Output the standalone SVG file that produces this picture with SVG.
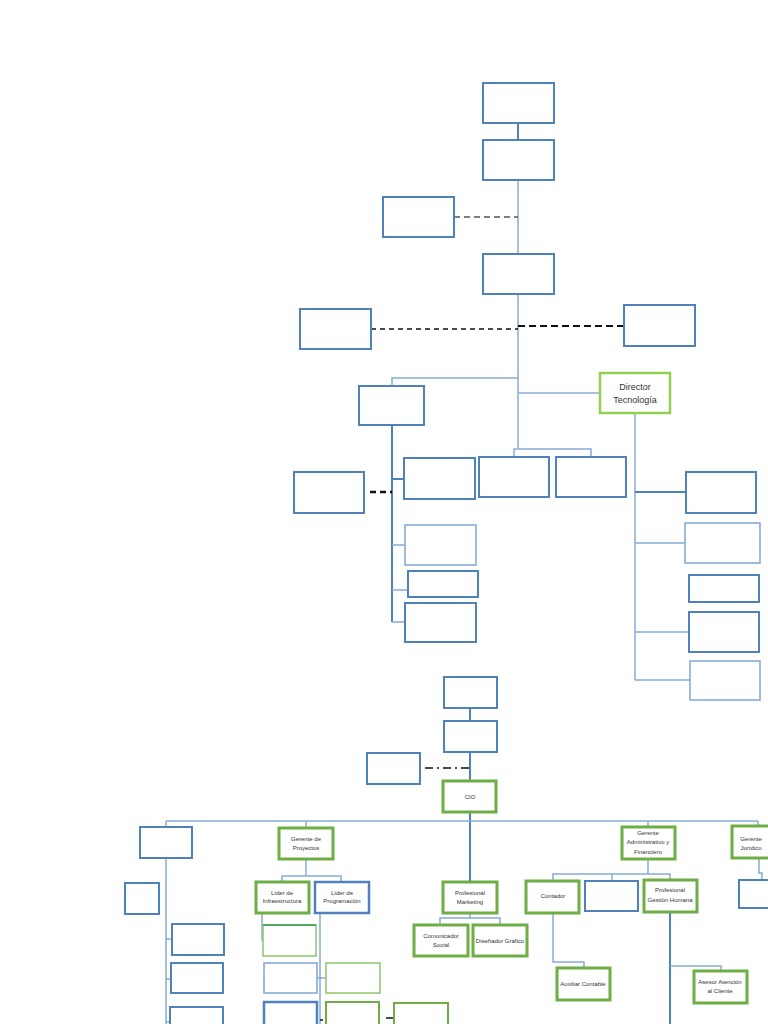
<svg xmlns="http://www.w3.org/2000/svg" width="768" height="1024" viewBox="0 0 768 1024">
<style>
.b{fill:#fff;stroke:#4F81BD;stroke-width:2}
.bl{fill:#fff;stroke:#7FA6D6;stroke-width:1.5}
.g{fill:#fff;stroke:#6FAE45;stroke-width:3}
.gl{fill:#fff;stroke:#92D050;stroke-width:2.5}
.gt{fill:#fff;stroke:#8CC56A;stroke-width:1.5}
.c{stroke:#86ACD8;stroke-width:1.5;fill:none}
.ct{stroke:#4F81BD;stroke-width:2;fill:none}
text{font-family:"Liberation Sans","DejaVu Sans",sans-serif;font-size:6px;fill:#333;text-anchor:middle}
.big{font-size:9px}
</style>
<rect width="768" height="1024" fill="#fff"/>
<g id="connectors">
<path class="ct" d="M518,123V140"/>
<path class="c" d="M518,180V254"/>
<path d="M454,217H518" stroke="#555" stroke-width="1.5" stroke-dasharray="6,4"/>
<path class="c" d="M518,294V448"/>
<path d="M371,329H518" stroke="#111" stroke-width="1.3" stroke-dasharray="5,4"/>
<path d="M518,326H624" stroke="#111" stroke-width="2.2" stroke-dasharray="7,4"/>
<path class="c" d="M518,378H392V386"/>
<path class="c" d="M518,393H600"/>
<path class="c" d="M514,457V449H591V457"/>
<path class="ct" d="M392,425V622"/>
<path class="ct" d="M392,479H404"/>
<path class="c" d="M392,545H405M392,590H408M392,622H405"/>
<path d="M370,492H392" stroke="#111" stroke-width="2.5" stroke-dasharray="6,4"/>
<path class="c" d="M635,413V680"/>
<path class="ct" d="M635,492H686"/>
<path class="c" d="M635,543H685M635,632H689M635,680H690"/>
<path class="ct" d="M470,708V721M470,752V781M470,812V882"/>
<path d="M425,768H470" stroke="#111" stroke-width="1.5" stroke-dasharray="8,4,2,4"/>
<path class="c" d="M166,821H758"/>
<path class="c" d="M166,821V827M166,858V1024M166,939H172M166,979H171M166,1022H170"/>
<path class="c" d="M306,821V828M306,859V876M282,883V876H341V883"/>
<path class="c" d="M262,913V940H263"/>
<path class="c" d="M320,913V1024M317,978H326"/>
<path d="M320,1020H323M386,1018H394" stroke="#111" stroke-width="1.5"/>
<path class="c" d="M470,913V918M440,925V918H500V925"/>
<path class="c" d="M648,821V827M648,859V874M553,881V874H670V880M612,874V881"/>
<path class="c" d="M553,913V962H584V968"/>
<path class="ct" d="M670,912V1024"/>
<path class="c" d="M670,966H721V971"/>
<path class="c" d="M758,821V826M759,858V873H762V880"/>
</g>
<g id="n1"><rect class="b" x="483" y="83" width="71" height="40"/></g>
<g id="n2"><rect class="b" x="483" y="140" width="71" height="40"/></g>
<g id="n3"><rect class="b" x="383" y="197" width="71" height="40"/></g>
<g id="n4"><rect class="b" x="483" y="254" width="71" height="40"/></g>
<g id="n5"><rect class="b" x="300" y="309" width="71" height="40"/></g>
<g id="n6"><rect class="b" x="624" y="305" width="71" height="41"/></g>
<g id="n7"><rect class="b" x="359" y="386" width="65" height="39"/></g>
<g id="director-tecnologia"><rect class="gl" x="600" y="373" width="70" height="40"/><text class="big" x="635" y="390">Director</text><text class="big" x="635" y="403">Tecnología</text></g>
<g id="n8"><rect class="b" x="479" y="457" width="70" height="40"/></g>
<g id="n9"><rect class="b" x="556" y="457" width="70" height="40"/></g>
<g id="n10"><rect class="b" x="404" y="458" width="71" height="41"/></g>
<g id="n11"><rect class="b" x="294" y="472" width="70" height="41"/></g>
<g id="n12"><rect class="bl" x="405" y="525" width="71" height="40"/></g>
<g id="n13"><rect class="b" x="408" y="571" width="70" height="26"/></g>
<g id="n14"><rect class="b" x="405" y="603" width="71" height="39"/></g>
<g id="n15"><rect class="b" x="686" y="472" width="70" height="41"/></g>
<g id="n16"><rect class="bl" x="685" y="523" width="75" height="40"/></g>
<g id="n17"><rect class="b" x="689" y="575" width="70" height="27"/></g>
<g id="n18"><rect class="b" x="689" y="612" width="70" height="40"/></g>
<g id="n19"><rect class="bl" x="690" y="661" width="70" height="39"/></g>
<g id="n20"><rect class="b" x="444" y="677" width="53" height="31"/></g>
<g id="n21"><rect class="b" x="444" y="721" width="53" height="31"/></g>
<g id="n22"><rect class="b" x="367" y="753" width="53" height="31"/></g>
<g id="cio"><rect class="g" x="443" y="781" width="53" height="31"/><text x="470" y="799">CIO</text></g>
<g id="n23"><rect class="b" x="140" y="827" width="52" height="31"/></g>
<g id="n24"><rect class="b" x="125" y="883" width="34" height="31"/></g>
<g id="n25"><rect class="b" x="172" y="924" width="52" height="31"/></g>
<g id="n26"><rect class="b" x="171" y="963" width="52" height="30"/></g>
<g id="n27"><rect class="b" x="170" y="1007" width="53" height="30"/></g>
<g id="gerente-proyectos"><rect class="g" x="279" y="828" width="54" height="31"/><text x="306" y="841">Gerente de</text><text x="306" y="850">Proyectos</text></g>
<g id="lider-infra"><rect class="g" x="256" y="882" width="53" height="31"/><text x="282" y="895">Líder de</text><text x="282" y="903">Infraestructura</text></g>
<g id="lider-prog"><rect class="b" x="315" y="882" width="54" height="31" style="stroke-width:2.5"/><text x="342" y="895">Líder de</text><text x="342" y="903">Programación</text></g>
<g id="n28"><rect class="gt" x="263" y="925" width="53" height="31"/><path d="M263,925H316" stroke="#2E9E4F" stroke-width="1.5"/></g>
<g id="n29"><rect class="bl" x="264" y="963" width="53" height="30"/></g>
<g id="n30"><rect class="gt" x="326" y="963" width="54" height="30"/></g>
<g id="n31"><rect class="b" x="264" y="1002" width="53" height="35" style="stroke-width:2.5"/></g>
<g id="n32"><rect class="g" x="326" y="1002" width="53" height="35" style="stroke-width:2"/></g>
<g id="n33"><rect class="g" x="394" y="1003" width="54" height="35" style="stroke-width:2"/></g>
<g id="prof-marketing"><rect class="g" x="443" y="882" width="54" height="31"/><text x="470" y="895">Profesional</text><text x="470" y="904">Marketing</text></g>
<g id="comunicador"><rect class="g" x="414" y="925" width="54" height="31"/><text x="441" y="938">Comunicador</text><text x="441" y="947">Social</text></g>
<g id="disenador"><rect class="g" x="473" y="925" width="54" height="31"/><text x="500" y="943">Diseñador Gráfico</text></g>
<g id="gerente-admin"><rect class="g" x="622" y="827" width="53" height="32"/><text x="648" y="835">Gerente</text><text x="648" y="844">Administrativo y</text><text x="648" y="854">Financiero</text></g>
<g id="contador"><rect class="g" x="526" y="881" width="53" height="32"/><text x="553" y="898">Contador</text></g>
<g id="n34"><rect class="b" x="585" y="881" width="53" height="30"/></g>
<g id="prof-gh"><rect class="g" x="644" y="880" width="53" height="32"/><text x="670" y="892">Profesional</text><text x="670" y="902">Gestión Humana</text></g>
<g id="auxiliar"><rect class="g" x="557" y="968" width="53" height="32"/><text x="583" y="986">Auxiliar Contable</text></g>
<g id="asesor"><rect class="g" x="694" y="971" width="53" height="32"/><text x="720" y="984">Asesor Atención</text><text x="720" y="993">al Cliente</text></g>
<g id="gerente-juridico"><rect class="g" x="732" y="826" width="54" height="32"/><text x="751" y="841">Gerente</text><text x="751" y="850">Jurídico</text></g>
<g id="n35"><rect class="b" x="739" y="880" width="40" height="28"/></g>
</svg>
